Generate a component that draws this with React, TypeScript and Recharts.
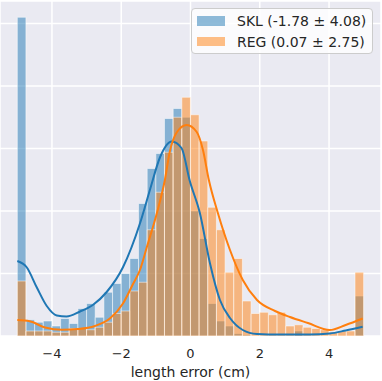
import React from 'react';
import { ComposedChart, Bar, Line, XAxis, YAxis, CartesianGrid, Legend } from 'recharts';

// Histogram bins (width 0.25 cm) – bin centres
const binCenters = [
  -4.875, -4.625, -4.375, -4.125, -3.875, -3.625, -3.375, -3.125, -2.875, -2.625,
  -2.375, -2.125, -1.875, -1.625, -1.375, -1.125, -0.875, -0.625, -0.375, -0.125,
  0.125, 0.375, 0.625, 0.875, 1.125, 1.375, 1.625, 1.875, 2.125, 2.375,
  2.625, 2.875, 3.125, 3.375, 3.625, 3.875, 4.125, 4.375, 4.625, 4.875,
];

// SKL counts per bin
const sklCounts = [
  255, 13, 11, 12, 8, 14, 10, 22, 26, 15,
  35, 42, 50, 62, 106, 134, 146, 174, 182, 175,
  100, 78, 26, 12, 8, 2, 1, 0, 0, 0,
  0, 0, 4, 0, 0, 0, 0, 0, 0, 32,
];

// REG counts per bin
const regCounts = [
  44, 4, 4, 4, 3, 3, 6, 6, 5, 7,
  11, 18, 20, 36, 43, 85, 115, 147, 175, 191,
  177, 156, 103, 85, 51, 62, 28, 18, 19, 17,
  19, 8, 9, 7, 6, 5, 3, 4, 4, 51,
];

// KDE curves
const kdeSklX = [-5.0, -4.73, -4.44, -4.15, -3.86, -3.58, -3.19, -2.82, -2.42, -1.95, -1.46, -1.17, -0.88, -0.54, -0.26, -0.02, 0.27, 0.56, 0.85, 1.14, 1.51, 1.92, 2.58, 3.44, 4.02, 4.48, 4.97];
const kdeSklY = [60, 55, 39, 24, 16.4, 15.6, 19.6, 24.8, 35.2, 55, 90, 117, 143, 155.6, 150.4, 124, 98.4, 58.4, 28.8, 14.4, 4.8, 1.6, 1.2, 1.2, 2.0, 4.4, 7.4];

const kdeRegX = [-5.0, -4.64, -4.2, -3.71, -3.25, -2.76, -2.32, -1.95, -1.66, -1.46, -1.26, -0.97, -0.74, -0.6, -0.39, -0.11, 0.18, 0.36, 0.53, 0.79, 1.14, 1.51, 1.92, 2.44, 2.87, 3.39, 4.02, 4.48, 4.97];
const kdeRegY = [12.8, 11.8, 6.8, 5.0, 5.6, 8.0, 14.2, 26, 41.6, 52.8, 71.2, 98.4, 124.8, 147.2, 163.2, 168.8, 163.2, 148.8, 124.8, 98.4, 68.8, 44.8, 28.8, 20, 15.2, 10.4, 4.8, 8.8, 14];

const xTicks = [-4, -2, 0, 2, 4];
const yTicks = [0, 50, 100, 150, 200, 250];
const seriesNames = ['SKL (-1.78 ± 4.08)', 'REG (0.07 ± 2.75)'];
const seriesColors = ['#1f77b4', '#ff7f0e'];

const histData = binCenters.map((x, i) => ({ x, skl: sklCounts[i], reg: regCounts[i] }));
const kdeSkl = kdeSklX.map((x, i) => ({ x, y: kdeSklY[i] }));
const kdeReg = kdeRegX.map((x, i) => ({ x, y: kdeRegY[i] }));

const FONT = '"DejaVu Sans", sans-serif';

const fmt = (v: number) => (v < 0 ? `\u2212${Math.abs(v)}` : `${v}`);

const LegendBox = () => (
  <div
    style={{
      boxSizing: 'border-box',
      width: 182,
      height: 46,
      background: 'rgba(255,255,255,0.8)',
      border: '1px solid #cccccc',
      borderRadius: 4,
      fontFamily: FONT,
      fontSize: 14,
      color: '#262626',
      position: 'relative',
      textAlign: 'left',
    }}
  >
    {seriesNames.map((name, i) => (
      <div
        key={name}
        style={{
          position: 'absolute',
          left: 5,
          top: 2 + 20.5 * i,
          height: 20,
          display: 'flex',
          alignItems: 'center',
          whiteSpace: 'nowrap',
        }}
      >
        <div
          style={{
            width: 28,
            height: 9.5,
            background: seriesColors[i],
            opacity: 0.5,
          }}
        />
        <span style={{ marginLeft: 12, lineHeight: '20px' }}>{name}</span>
      </div>
    ))}
  </div>
);

export default function App() {
  return (
    <div style={{ position: 'absolute', left: 0, top: 0, width: 382, height: 381, background: '#ffffff' }}>
      <ComposedChart
        width={382}
        height={381}
        data={histData}
        margin={{ top: 1, right: 1, bottom: 0, left: 0 }}
        style={{ fontFamily: FONT }}
      >
        <CartesianGrid
          xAxisId="a"
          stroke="#ffffff"
          strokeWidth={1.5}
          fill="#eaeaf2"
          fillOpacity={1}
        />
        <XAxis
          xAxisId="a"
          dataKey="x"
          type="number"
          domain={[-5.5, 5.5]}
          allowDataOverflow
          ticks={xTicks}
          tickFormatter={fmt}
          axisLine={false}
          tickLine={false}
          tickMargin={7}
          height={45}
          tick={{ fontFamily: FONT, fontSize: 13, fill: '#262626' }}
          label={{
            value: 'length error (cm)',
            position: 'insideBottom',
            offset: 4.5,
            style: { fontFamily: FONT, fontSize: 14, fill: '#262626' },
          }}
        />
        <XAxis xAxisId="b" dataKey="x" type="number" domain={[-5.5, 5.5]} allowDataOverflow hide />
        <XAxis xAxisId="c" dataKey="x" type="number" domain={[-5.5, 5.5]} allowDataOverflow hide />
        <YAxis type="number" domain={[0, 268]} ticks={yTicks} hide allowDataOverflow />
        <Legend
          layout="horizontal"
          verticalAlign="middle"
          align="center"
          content={() => <LegendBox />}
          wrapperStyle={{ top: 8, left: 191, width: 182, height: 46, margin: 0 }}
        />
        <Bar
          xAxisId="a"
          dataKey="skl"
          barSize={8.6}
          fill={seriesColors[0]}
          fillOpacity={0.5}
          stroke="#ffffff"
          strokeOpacity={0.5}
          strokeWidth={1}
          isAnimationActive={false}
        />
        <Bar
          xAxisId="b"
          dataKey="reg"
          barSize={8.6}
          fill={seriesColors[1]}
          fillOpacity={0.5}
          stroke="#ffffff"
          strokeOpacity={0.5}
          strokeWidth={1}
          isAnimationActive={false}
        />
        <Line
          xAxisId="c"
          data={kdeSkl}
          dataKey="y"
          type="monotone"
          stroke={seriesColors[0]}
          strokeWidth={2}
          dot={false}
          activeDot={false}
          isAnimationActive={false}
        />
        <Line
          xAxisId="c"
          data={kdeReg}
          dataKey="y"
          type="monotone"
          stroke={seriesColors[1]}
          strokeWidth={2}
          dot={false}
          activeDot={false}
          isAnimationActive={false}
        />
      </ComposedChart>
    </div>
  );
}
